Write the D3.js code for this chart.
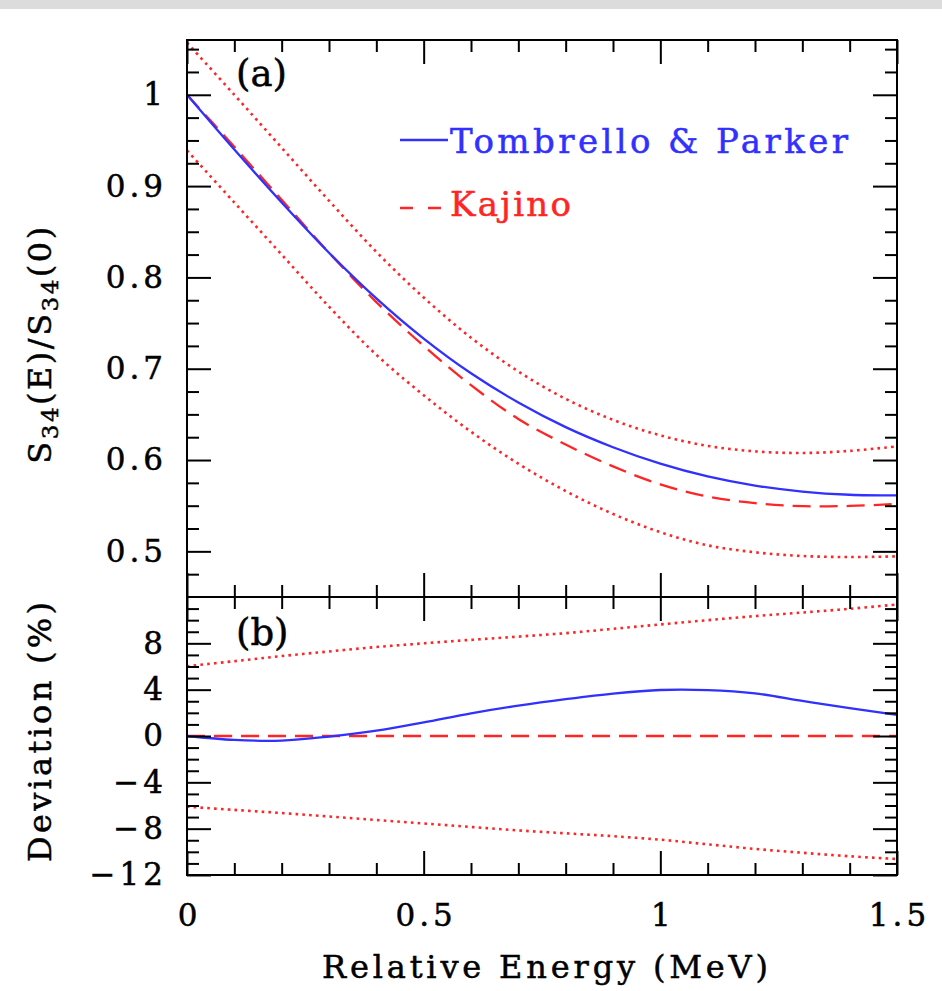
<!DOCTYPE html>
<head>
  <meta charset="utf-8">
  <script src="https://cdn.jsdelivr.net/npm/d3@7"></script>
  <style>
    body { margin: 0; background: white; }
    text { font-family: "DejaVu Serif", serif; }
  </style>
</head>
<body>
  <div id="chartDiv"></div>
  <script>

  // relative energy grid (MeV)
  var energy = [0, 0.1, 0.2, 0.3, 0.4, 0.5, 0.6, 0.7, 0.8, 0.9, 1.0, 1.1, 1.2, 1.3, 1.4, 1.5];

  // panel (a): S34(E)/S34(0)
  var tombrello = [1.0, 0.940, 0.882, 0.827, 0.777, 0.733, 0.695, 0.663, 0.636, 0.614, 0.596, 0.582, 0.572, 0.5655, 0.562, 0.5612];
  var kajino    = [1.0, 0.943, 0.885, 0.827, 0.773, 0.725, 0.682, 0.645, 0.617, 0.593, 0.5734, 0.560, 0.5528, 0.5495, 0.5497, 0.552];
  var kajinoUp  = [1.057, 1.000, 0.942, 0.884, 0.828, 0.778, 0.734, 0.697, 0.667, 0.644, 0.627, 0.6155, 0.6095, 0.6077, 0.610, 0.615];
  var kajinoLow = [0.939, 0.882, 0.825, 0.768, 0.7153, 0.671, 0.631, 0.596, 0.566, 0.541, 0.521, 0.5066, 0.499, 0.4949, 0.4938, 0.4945];

  // panel (b): deviation (%)
  var devTombrello = [0, -0.34, -0.4, -0.05, 0.46, 1.18, 1.96, 2.62, 3.18, 3.66, 3.97, 3.96, 3.68, 3.03, 2.4, 1.83];
  var devKajino    = [0, 0, 0, 0, 0, 0, 0, 0, 0, 0, 0, 0, 0, 0, 0, 0];
  var devUp        = [6.02, 6.46, 6.9, 7.3, 7.68, 8.0, 8.3, 8.58, 8.88, 9.25, 9.63, 10.0, 10.35, 10.66, 10.98, 11.35];
  var devLow       = [-6.1, -6.38, -6.65, -6.95, -7.25, -7.55, -7.85, -8.15, -8.4, -8.65, -8.95, -9.35, -9.75, -10.08, -10.38, -10.62];

  // ticks
  var xTicks = [0, 0.5, 1, 1.5];
  var xMinor = [0.1, 0.2, 0.3, 0.4, 0.6, 0.7, 0.8, 0.9, 1.1, 1.2, 1.3, 1.4];
  var yTicksA = [0.5, 0.6, 0.7, 0.8, 0.9, 1];
  var yTicksB = [-12, -8, -4, 0, 4, 8];

  var legendNames = ["Tombrello & Parker", "Kajino"];

  var width = 942, height = 991;
  var left = 187, right = 897, topA = 40, divide = 597, bottomB = 875;

  var blue = "#3030ff", red = "#ff2525";

  var svg = d3.select("#chartDiv").append("svg")
    .attr("width", width)
    .attr("height", height);

  svg.append("rect")
    .attr("x", 0).attr("y", 0)
    .attr("width", width).attr("height", 9)
    .style("fill", "#dcdcdc");

  var x = d3.scaleLinear().domain([0, 1.5]).range([left, right]);
  var yA = d3.scaleLinear().domain([0.45, 1.06]).range([divide, topA]);
  var yB = d3.scaleLinear().domain([-12, 12]).range([bottomB, divide]);

  var fmt = function(d) { return String(d).replace("-", "\u2212"); };

  var defs = svg.append("defs");
  defs.append("clipPath").attr("id", "clipA").append("rect")
    .attr("x", left).attr("y", topA).attr("width", right - left).attr("height", divide - topA);
  defs.append("clipPath").attr("id", "clipB").append("rect")
    .attr("x", left).attr("y", divide).attr("width", right - left).attr("height", bottomB - divide);

  function drawCurve(yScale, values, clip, color, dash, w) {
    var line = d3.line()
      .x(function(d, i) { return x(energy[i]); })
      .y(function(d) { return yScale(d); })
      .curve(d3.curveCatmullRom);
    svg.append("path")
      .datum(values)
      .attr("clip-path", "url(#" + clip + ")")
      .attr("d", line)
      .style("fill", "none")
      .style("stroke", color)
      .style("stroke-width", w)
      .style("stroke-dasharray", dash);
  }

  var dotted = "2.6,4.2";
  var dashed = "18,9";

  drawCurve(yA, kajinoUp, "clipA", red, dotted, 2.6);
  drawCurve(yA, kajinoLow, "clipA", red, dotted, 2.6);
  drawCurve(yA, kajino, "clipA", red, dashed, 2.3);
  drawCurve(yA, tombrello, "clipA", blue, null, 2.3);

  drawCurve(yB, devUp, "clipB", red, dotted, 2.6);
  drawCurve(yB, devLow, "clipB", red, dotted, 2.6);
  drawCurve(yB, devKajino, "clipB", red, dashed, 2.3);
  drawCurve(yB, devTombrello, "clipB", blue, null, 2.3);

  // axes: major and minor ticks, all pointing inward
  function addAxis(axis, tx, ty) {
    var g = svg.append("g")
      .attr("transform", "translate(" + tx + "," + ty + ")")
      .call(axis);
    g.select(".domain").remove();
    g.selectAll(".tick line").style("stroke", "black").style("stroke-width", 2);
    g.selectAll(".tick text")
      .style("font-family", "DejaVu Serif")
      .style("font-size", "31px")
      .style("letter-spacing", "4px")
      .style("fill", "black")
      .style("stroke", "black")
      .style("stroke-width", 0.5);
    return g;
  }

  var majorLen = 24, minorLen = 12;
  var minorA = d3.range(0.475, 1.06, 0.025).filter(function(v) { return Math.abs(v * 10 - Math.round(v * 10)) > 0.01; });
  var minorB = d3.range(-11, 12, 1).filter(function(v) { return v % 4 != 0; });

  // panel (a)
  addAxis(d3.axisLeft(yA).tickValues(yTicksA).tickSizeInner(-majorLen).tickSizeOuter(0)
    .tickPadding(20).tickFormat(fmt), left, 0);
  addAxis(d3.axisLeft(yA).tickValues(minorA).tickSizeInner(-minorLen).tickSizeOuter(0).tickFormat(""), left, 0);
  addAxis(d3.axisRight(yA).tickValues(yTicksA).tickSizeInner(-majorLen).tickSizeOuter(0).tickFormat(""), right, 0);
  addAxis(d3.axisRight(yA).tickValues(minorA).tickSizeInner(-minorLen).tickSizeOuter(0).tickFormat(""), right, 0);
  addAxis(d3.axisTop(x).tickValues(xTicks).tickSizeInner(-majorLen).tickSizeOuter(0).tickFormat(""), 0, topA);
  addAxis(d3.axisTop(x).tickValues(xMinor).tickSizeInner(-minorLen).tickSizeOuter(0).tickFormat(""), 0, topA);
  addAxis(d3.axisBottom(x).tickValues(xTicks).tickSizeInner(-majorLen).tickSizeOuter(0).tickFormat(""), 0, divide);
  addAxis(d3.axisBottom(x).tickValues(xMinor).tickSizeInner(-minorLen).tickSizeOuter(0).tickFormat(""), 0, divide);

  // panel (b)
  addAxis(d3.axisLeft(yB).tickValues(yTicksB).tickSizeInner(-majorLen).tickSizeOuter(0)
    .tickPadding(20).tickFormat(fmt), left, 0);
  addAxis(d3.axisLeft(yB).tickValues(minorB).tickSizeInner(-minorLen).tickSizeOuter(0).tickFormat(""), left, 0);
  addAxis(d3.axisRight(yB).tickValues(yTicksB).tickSizeInner(-majorLen).tickSizeOuter(0).tickFormat(""), right, 0);
  addAxis(d3.axisRight(yB).tickValues(minorB).tickSizeInner(-minorLen).tickSizeOuter(0).tickFormat(""), right, 0);
  addAxis(d3.axisTop(x).tickValues(xTicks).tickSizeInner(-majorLen).tickSizeOuter(0).tickFormat(""), 0, divide);
  addAxis(d3.axisTop(x).tickValues(xMinor).tickSizeInner(-minorLen).tickSizeOuter(0).tickFormat(""), 0, divide);
  var xb = addAxis(d3.axisBottom(x).tickValues(xTicks).tickSizeInner(-majorLen).tickSizeOuter(0)
    .tickPadding(29).tickFormat(fmt), 0, bottomB);
  xb.selectAll(".tick text").attr("dx", "2px");
  addAxis(d3.axisBottom(x).tickValues(xMinor).tickSizeInner(-minorLen).tickSizeOuter(0).tickFormat(""), 0, bottomB);

  // frames
  svg.append("rect")
    .attr("x", left).attr("y", topA)
    .attr("width", right - left).attr("height", bottomB - topA)
    .style("fill", "none").style("stroke", "black").style("stroke-width", 2);
  svg.append("line")
    .attr("x1", left).attr("x2", right)
    .attr("y1", divide).attr("y2", divide)
    .style("stroke", "black").style("stroke-width", 2);

  // text helper: slightly heavier strokes like the original plot font
  function heavy(sel, color) {
    return sel.style("fill", color).style("stroke", color).style("stroke-width", 0.5);
  }

  // panel labels
  heavy(svg.append("text").attr("x", 236).attr("y", 86)
    .style("font-size", "37px").text("(a)"), "black");
  heavy(svg.append("text").attr("x", 236).attr("y", 645)
    .style("font-size", "37px").text("(b)"), "black");

  // legend
  svg.append("line")
    .attr("x1", 400).attr("x2", 448).attr("y1", 140).attr("y2", 140)
    .style("stroke", blue).style("stroke-width", 2.3);
  heavy(svg.append("text").attr("x", 450).attr("y", 153)
    .attr("textLength", 398).attr("lengthAdjust", "spacing")
    .style("font-size", "34px").text(legendNames[0]), blue);
  svg.append("line")
    .attr("x1", 400).attr("x2", 442).attr("y1", 208).attr("y2", 208)
    .style("stroke", red).style("stroke-width", 2.3).style("stroke-dasharray", "13,15");
  heavy(svg.append("text").attr("x", 450).attr("y", 216)
    .attr("textLength", 121).attr("lengthAdjust", "spacing")
    .style("font-size", "34px").text(legendNames[1]), red);

  // axis titles
  heavy(svg.append("text")
    .attr("x", 545).attr("y", 978)
    .attr("text-anchor", "middle")
    .attr("textLength", 446).attr("lengthAdjust", "spacing")
    .style("font-size", "32px")
    .text("Relative Energy (MeV)"), "black");

  var yTitle = heavy(svg.append("text")
    .attr("transform", "translate(51,344) rotate(-90)")
    .attr("text-anchor", "middle")
    .style("font-size", "32px")
    .style("letter-spacing", "2.5px"), "black");
  yTitle.append("tspan").text("S");
  yTitle.append("tspan").attr("dy", 7).style("font-size", "23px").text("34");
  yTitle.append("tspan").attr("dy", -7).text("(E)/S");
  yTitle.append("tspan").attr("dy", 7).style("font-size", "23px").text("34");
  yTitle.append("tspan").attr("dy", -7).text("(0)");

  heavy(svg.append("text")
    .attr("transform", "translate(51,732) rotate(-90)")
    .attr("text-anchor", "middle")
    .attr("textLength", 260).attr("lengthAdjust", "spacing")
    .style("font-size", "32px")
    .text("Deviation (%)"), "black");

  </script>
</body>
